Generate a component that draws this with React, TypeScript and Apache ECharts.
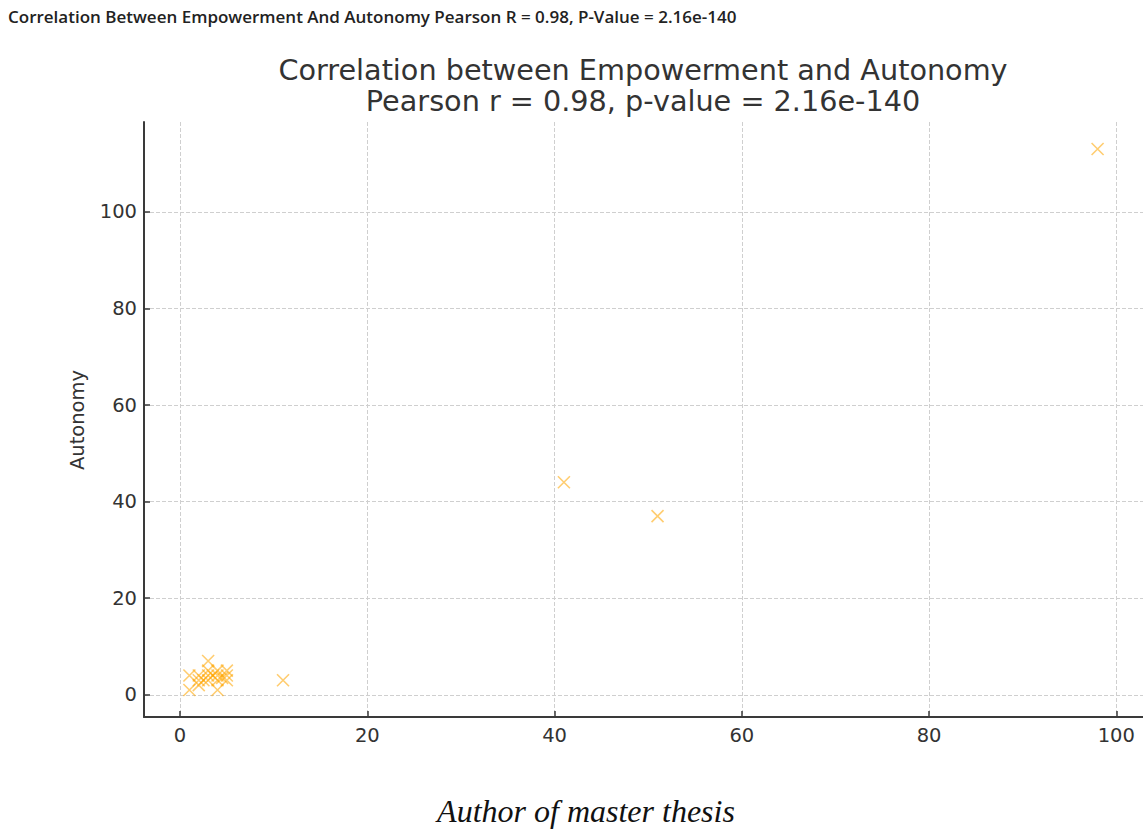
import React, { useEffect, useRef } from "react";
import * as echarts from "echarts";

const empowerment = [1, 1, 2, 2, 2, 2.5, 3, 3, 3, 3, 3.5, 4, 4, 4, 4, 4.5, 5, 5, 5, 11, 41, 51, 98];
const autonomy = [1, 4, 2, 3, 4, 3, 3, 4, 5, 7, 4, 1, 3, 4, 5, 3.5, 3, 4, 5, 3, 44, 37, 113];

const pageTitle = "Correlation Between Empowerment And Autonomy Pearson R = 0.98, P-Value = 2.16e-140";
const chartTitle1 = "Correlation between Empowerment and Autonomy";
const chartTitle2 = "Pearson r = 0.98, p-value = 2.16e-140";
const yLabel = "Autonomy";
const caption = "Author of master thesis";

function padded(arr: number[]): [number, number] {
  const lo = Math.min(...arr);
  const hi = Math.max(...arr);
  const m = (hi - lo) * 0.05;
  return [lo - m, hi + m];
}

export default function App() {
  const ref = useRef<HTMLDivElement>(null);
  useEffect(() => {
    document.body.style.margin = "0";
    const chart = echarts.init(ref.current!, null, { renderer: "svg" });
    const [xmin, xmax] = padded(empowerment);
    const [ymin, ymax] = padded(autonomy);
    const font = "DejaVu Sans";
    const axisColor = "#3a3a3a";
    const common = {
      type: "value" as const,
      splitNumber: 5,
      minInterval: 20,
      maxInterval: 20,
      axisLine: { show: true, onZero: false, lineStyle: { color: axisColor, width: 2 } },
      axisTick: { show: true, inside: true, length: 6, lineStyle: { color: axisColor, width: 1.5 } },
      splitLine: {
        show: true,
        showMinLine: false,
        showMaxLine: false,
        lineStyle: { color: "#cfcfcf", type: [4, 2], width: 1 },
      },
    };
    chart.setOption({
      animation: false,
      backgroundColor: "#ffffff",
      grid: { left: 144, right: 0, top: 122, bottom: 112, containLabel: false },
      xAxis: {
        ...common,
        min: xmin,
        max: xmax,
        axisLabel: {
          showMinLabel: false,
          showMaxLabel: false,
          color: "#333",
          fontSize: 19.5,
          fontFamily: font,
          margin: 8,
        },
      },
      yAxis: {
        ...common,
        min: ymin,
        max: ymax,
        axisLabel: {
          showMinLabel: false,
          showMaxLabel: false,
          color: "#333",
          fontSize: 19.5,
          fontFamily: font,
          margin: 7,
        },
      },
      series: [
        {
          type: "scatter",
          data: empowerment.map((x, i) => [x, autonomy[i]]),
          symbol: "path://M0,0L12,12M12,0L0,12",
          symbolSize: 12,
          itemStyle: { color: "none", borderColor: "rgba(255,165,0,0.7)", borderWidth: 1.6 },
          emphasis: { disabled: true },
          silent: true,
        },
      ],
      graphic: [
        {
          type: "text",
          left: 8,
          top: 8,
          style: { text: pageTitle, fontSize: 17, fontWeight: 600, fontFamily: "Open Sans", fill: "#222" },
        },
        {
          type: "text",
          x: 643,
          y: 70,
          style: { text: chartTitle1, fontSize: 28.7, fontFamily: font, fill: "#333", textAlign: "center", textVerticalAlign: "middle" },
        },
        {
          type: "text",
          x: 643,
          y: 101,
          style: { text: chartTitle2, fontSize: 28.7, fontFamily: font, fill: "#333", textAlign: "center", textVerticalAlign: "middle" },
        },
        {
          type: "text",
          x: 77,
          y: 420,
          rotation: Math.PI / 2,
          style: { text: yLabel, fontSize: 19.5, fontFamily: font, fill: "#333", textAlign: "center", textVerticalAlign: "middle" },
        },
        {
          type: "text",
          x: 586,
          y: 811,
          style: {
            text: caption,
            fontSize: 32,
            fontStyle: "italic",
            fontFamily: "Liberation Serif",
            fill: "#111",
            textAlign: "center",
            textVerticalAlign: "middle",
          },
        },
      ],
    });
    return () => chart.dispose();
  }, []);
  return <div ref={ref} style={{ width: 1143, height: 829 }} />;
}
